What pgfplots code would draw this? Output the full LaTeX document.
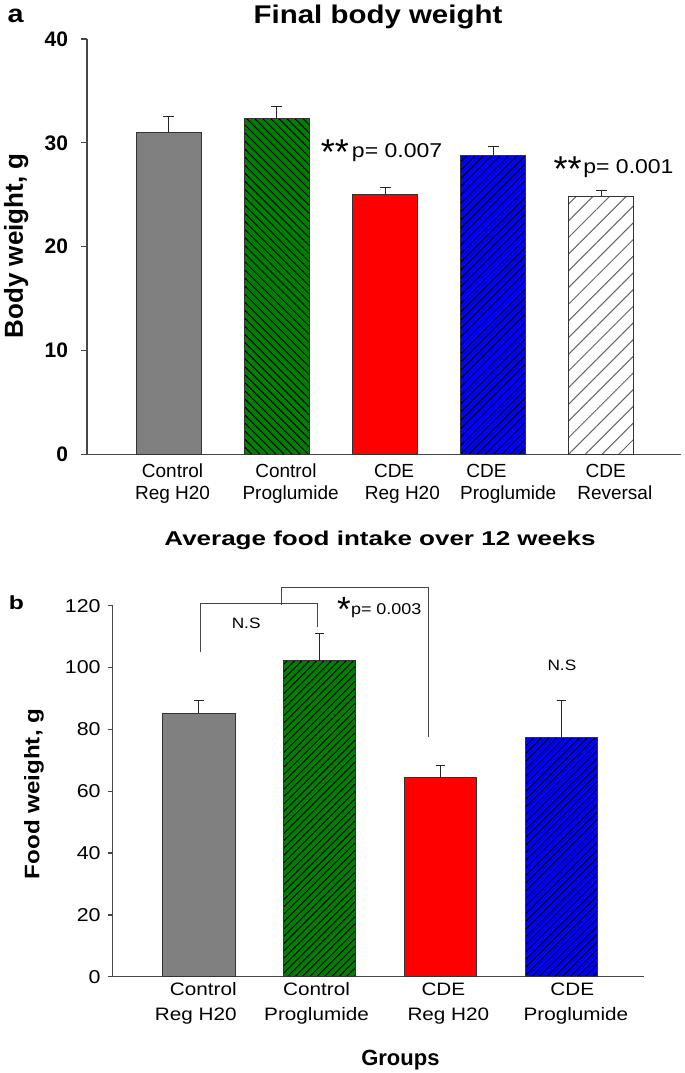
\documentclass[border=0pt]{standalone}
\usepackage{pgfplots}
\pgfplotsset{compat=1.18}
\usetikzlibrary{patterns.meta}
\usepackage{fontspec}
\setmainfont{Liberation Sans}
\newfontfamily\sfw{Liberation Sans}[FakeStretch=1.15]
\newfontfamily\sfww{Liberation Sans}[FakeStretch=1.3]
\definecolor{dkgreen}{RGB}{0,128,0}
\definecolor{axgray}{RGB}{70,70,70}
\pgfplotsset{
  eb/.style={
    error bars/y dir=plus, error bars/y explicit,
    error bars/error mark=-,
    error bars/error bar style={black!85, line width=0.5pt},
    error bars/error mark options={rotate=90, black!85, line width=0.5pt, mark size=#1},
  },
  barA/.style={ybar, bar shift=0pt, bar width=32.5pt, draw=black!80, line width=0.5pt, eb=2.75pt},
  barB/.style={ybar, bar shift=0pt, bar width=36.25pt, draw=black!80, line width=0.5pt, eb=2.3pt},
}
\begin{document}
\begin{tikzpicture}
\path[use as bounding box] (0,0) rectangle (342.5pt,536.5pt);
\node[anchor=base west, inner sep=0, font=\sfw\bfseries\fontsize{12.5}{12.5}\selectfont] at (3.6pt,525pt) {a};
\node[anchor=base, inner sep=0, font=\sfw\bfseries\fontsize{12.8}{12.8}\selectfont] at (189pt,524.85pt) {Final body weight};
\node[anchor=base, inner sep=0, font=\sfww\bfseries\fontsize{10}{10}\selectfont] at (190pt,263.5pt) {Average food intake over 12 weeks};
\node[anchor=base west, inner sep=0, font=\sfww\bfseries\fontsize{9.5}{9.5}\selectfont] at (4.2pt,231.5pt) {b};
\node[anchor=base, inner sep=0, font=\bfseries\fontsize{11}{11}\selectfont] at (200.2pt,4pt) {Groups};

\begin{axis}[
  at={(43.5pt,309.35pt)}, anchor=south west,
  scale only axis, width=297.25pt, height=207.65pt,
  xmin=-0.757, xmax=4.741, ymin=0, ymax=40,
  clip=false,
  axis lines*=left,
  axis line style={-, draw=axgray, line width=0.6pt},
  tick align=outside, major tick length=3.15pt,
  ytick={0,10,20,30,40},
  ytick style={draw=axgray, line width=0.6pt},
  xtick={0.034,1.126,2.160,3.139,4.124},
  xticklabels={{Control\\Reg H20},{Control\hspace*{4.7pt}\\Proglumide},{CDE\hspace*{8.3pt}\\Reg H20},{CDE\hspace*{21.8pt}\\Proglumide},{CDE\hspace*{9pt}\\Reversal}},
  xtick style={draw=none},
  xticklabel style={align=center, font=\fontsize{9.5}{10.85}\selectfont, yshift=1.8pt},
  yticklabel style={font=\bfseries\fontsize{10.5}{10.5}\selectfont, xshift=-2.85pt},
  /pgf/number format/assume math mode=true,
  ylabel={Body weight, g},
  ylabel style={at={(axis description cs:-0.1077,0.502)}, anchor=base, font=\bfseries\fontsize{13}{13}\selectfont},
]
\addplot[barA, fill=gray] coordinates {(0,31.0) +- (0,1.5)};
\addplot[barA, fill=dkgreen, postaction={pattern color=black, pattern={Lines[angle=-45,distance=2.85pt,line width=0.5pt]}}] coordinates {(1,32.33) +- (0,1.17)};
\addplot[barA, fill=red] coordinates {(2,25.05) +- (0,0.65)};
\addplot[barA, fill=blue, postaction={pattern color=black, pattern={Lines[angle=45,distance=2.95pt,line width=0.5pt]}}] coordinates {(3,28.8) +- (0,0.8)};
\addplot[barA, fill=white, postaction={pattern color=black!60, pattern={Lines[angle=45,distance=5.9pt,line width=0.5pt]}}] coordinates {(4,24.85) +- (0,0.55)};
\node[anchor=base, inner sep=0, font=\fontsize{18}{18}\selectfont] at (axis cs:1.535,27.88) {**};
\node[anchor=base west, inner sep=0, font=\sfw\fontsize{10}{10}\selectfont] at (axis cs:1.690,28.61) {p= 0.007};
\node[anchor=base, inner sep=0, font=\fontsize{18}{18}\selectfont] at (axis cs:3.688,26.31) {**};
\node[anchor=base west, inner sep=0, font=\sfw\fontsize{10}{10}\selectfont] at (axis cs:3.830,27.0) {p= 0.001};
\end{axis}

\begin{axis}[
  at={(56.35pt,48.1pt)}, anchor=south west,
  scale only axis, width=265.85pt, height=185.6pt,
  xmin=-0.714, xmax=3.688, ymin=0, ymax=120,
  clip=false,
  axis lines*=left,
  axis line style={-, draw=axgray, line width=0.6pt},
  tick align=outside, major tick length=2.5pt,
  ytick={0,20,40,60,80,100,120},
  ytick style={draw=axgray, line width=0.6pt},
  xtick={-0.026,0.974,2.065,3.121},
  xticklabels={{\hspace*{7.5pt}Control\\Reg H20},{Control\\Proglumide},{CDE\hspace*{5pt}\\Reg H20},{CDE\hspace*{3.7pt}\\Proglumide}},
  xtick style={draw=none},
  xticklabel style={align=center, font=\sfw\fontsize{9}{12.5}\selectfont, yshift=3pt},
  yticklabel style={font=\sfw\fontsize{9.3}{9.3}\selectfont},
  /pgf/number format/assume math mode=true,
  ylabel={Food weight, g},
  ylabel style={at={(axis description cs:-0.138,0.4925)}, anchor=base, font=\sfw\bfseries\fontsize{10.5}{10.5}\selectfont},
]
\addplot[barB, fill=gray] coordinates {(0,85.2) +- (0,4.2)};
\addplot[barB, fill=dkgreen, postaction={pattern color=black, pattern={Lines[angle=45,distance=2.6pt,line width=0.5pt]}}] coordinates {(1,102.2) +- (0,8.8)};
\addplot[barB, fill=red] coordinates {(2,64.3) +- (0,4.0)};
\addplot[barB, fill=blue, postaction={pattern color=black, pattern={Lines[angle=45,distance=2.7pt,line width=0.5pt]}}] coordinates {(3,77.3) +- (0,12.1)};
\addplot[sharp plot, no marks, draw=axgray, line width=0.5pt] coordinates {(0.012,104.9) (0.012,120.7) (0.98,120.7) (0.98,113.2)};
\addplot[sharp plot, no marks, draw=axgray, line width=0.5pt] coordinates {(0.685,120.3) (0.685,126.0) (1.897,126.0) (1.897,77.5)};
\node[anchor=base, inner sep=0, font=\sfw\fontsize{7.5}{7.5}\selectfont] at (axis cs:0.391,112.6) {N.S};
\node[anchor=base, inner sep=0, font=\sfw\fontsize{7.5}{7.5}\selectfont] at (axis cs:3.005,98.9) {N.S};
\node[anchor=base, inner sep=0, font=\fontsize{17.5}{17.5}\selectfont] at (axis cs:1.2,114.7) {*};
\node[anchor=base west, inner sep=0, font=\sfw\fontsize{7.8}{7.8}\selectfont] at (axis cs:1.256,117.0) {p= 0.003};
\end{axis}
\end{tikzpicture}
\end{document}
